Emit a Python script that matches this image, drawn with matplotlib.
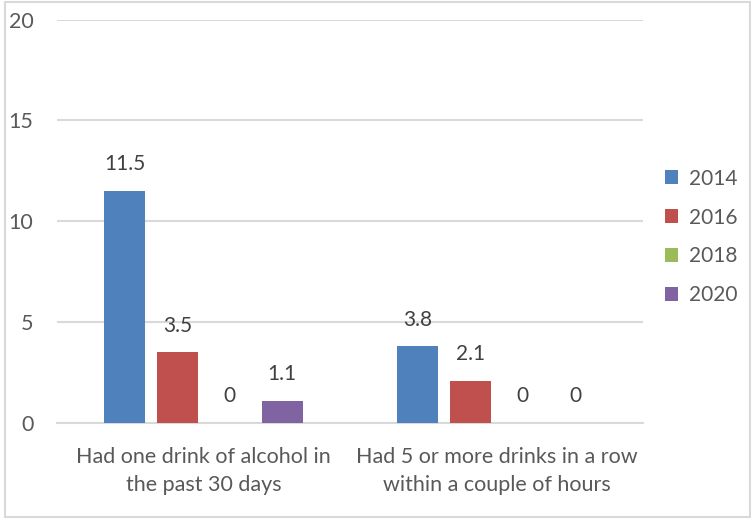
import matplotlib
matplotlib.use("Agg")
import matplotlib.pyplot as plt
from matplotlib.patches import Rectangle
import numpy as np

categories = ["Had one drink of alcohol in\nthe past 30 days",
              "Had 5 or more drinks in a row\nwithin a couple of hours"]
series_names = ["2014", "2016", "2018", "2020"]
values = {
    "2014": [11.5, 3.8],
    "2016": [3.5, 2.1],
    "2018": [0, 0],
    "2020": [1.1, 0],
}
colors = ["#4F81BD", "#C0504D", "#9BBB59", "#8064A2"]
yticks = [0, 5, 10, 15, 20]

plt.rcParams['font.family'] = ['Lato', 'DejaVu Sans']
txt = "#595959"

fig = plt.figure(figsize=(7.51, 5.19), dpi=100)
fig.patches.append(Rectangle((5/751, 2/519), 745/751, 515/519, transform=fig.transFigure,
                             fill=False, edgecolor="#D9D9D9", linewidth=1.5))
ax = fig.add_axes([57/751, 1 - 423/519, (643-57)/751, (423-19.5)/519])

x = np.arange(len(categories))
slot = 52.5/293
width = 41/293
for i, (name, c) in enumerate(zip(series_names, colors)):
    pos = x + (i - 1.5) * slot
    ax.bar(pos, values[name], width, color=c, label=name, zorder=3)
    for p, v in zip(pos, values[name]):
        ax.annotate(f"{v:g}", (p, v), xytext=(0, 12), textcoords="offset points",
                    ha="center", va="bottom", fontsize=15, color="#404040")

ax.set_xlim(-0.5, 1.5)
ax.set_ylim(0, 20)
ax.set_yticks(yticks)
ax.set_yticklabels([str(t) for t in yticks])
ax.yaxis.grid(True, color="#D9D9D9", linewidth=1.5, zorder=0)
ax.set_axisbelow(True)
for s in ["top", "right", "left"]:
    ax.spines[s].set_visible(False)
ax.spines["bottom"].set_color("#D9D9D9")
ax.spines["bottom"].set_linewidth(1.5)
ax.tick_params(axis="y", length=0, pad=17, labelsize=15.5, labelcolor=txt)
ax.tick_params(axis="x", length=0, pad=17, labelsize=15.5, labelcolor=txt)
ax.set_xticks(x)
ax.set_xticklabels(categories, linespacing=1.55)

fig.legend(loc="upper left", bbox_to_anchor=(646/751, 1 - 150/519), frameon=False,
           fontsize=15, handlelength=0.65, handleheight=0.65, labelspacing=0.9,
           handletextpad=0.5, labelcolor=txt)

fig.savefig("out.png", dpi=100)
